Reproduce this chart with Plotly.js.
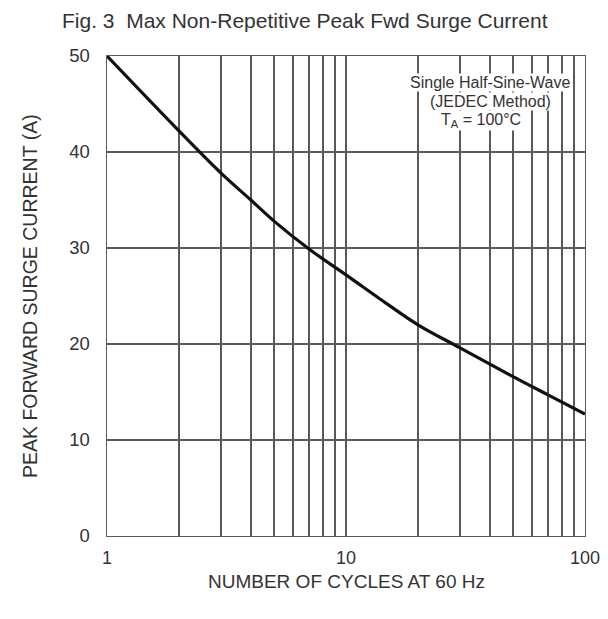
<!DOCTYPE html>
<html>
<head>
<meta charset="utf-8">
<script src="https://cdn.plot.ly/plotly-3.0.1.min.js"></script>
<style>html,body{margin:0;padding:0;background:#fff;}#chart{width:608px;height:619px;}</style>
</head>
<body>
<div id="chart"></div>
<script>
const cycles = [1, 2, 3, 4, 5, 7, 10, 15, 20, 30, 50, 70, 100];
const surgeCurrent = [50, 42.2, 37.8, 35.0, 32.8, 29.9, 27.2, 24.1, 22.0, 19.6, 16.6, 14.7, 12.7];
const xMajorTicks = [1, 10, 100];
const xTickText = ["1", "10", "100"];
const xMinorTicks = [2, 3, 4, 5, 6, 7, 8, 9, 20, 30, 40, 50, 60, 70, 80, 90];
const yTickVals = [0, 10, 20, 30, 40, 50];

const font = "Liberation Sans, Arial, sans-serif";
const textColor = "#333";
const gridColor = "#5a5a5a";

const trace = {
  x: cycles, y: surgeCurrent, type: "scatter", mode: "lines",
  line: {color: "#111", width: 3.2, shape: "spline", smoothing: 1.1},
  hoverinfo: "skip"
};

const layout = {
  width: 608, height: 619,
  margin: {l: 107, r: 23, t: 56, b: 83},
  paper_bgcolor: "#fff", plot_bgcolor: "#fff",
  showlegend: false,
  font: {family: font, color: textColor, size: 18},
  title: {
    text: "Fig. 3  Max Non-Repetitive Peak Fwd Surge Current",
    font: {family: font, size: 21, color: textColor},
    xref: "container", yref: "container",
    x: 62/608, xanchor: "left", y: 1 - 21/619, yanchor: "middle"
  },
  xaxis: {
    type: "log", range: [0, 2],
    tickmode: "array", tickvals: xMajorTicks, ticktext: xTickText,
    showgrid: true, gridcolor: gridColor, gridwidth: 1.4,
    minor: {tickmode: "array", tickvals: xMinorTicks, showgrid: true, gridcolor: gridColor, gridwidth: 1.4, ticks: ""},
    showline: true, linecolor: gridColor, linewidth: 1.4, mirror: true,
    ticks: "", zeroline: false, ticklabelstandoff: 5,
    tickfont: {family: font, size: 18, color: textColor}
  },
  yaxis: {
    range: [0, 50],
    tickmode: "array", tickvals: yTickVals,
    showgrid: true, gridcolor: gridColor, gridwidth: 1.4,
    showline: true, linecolor: gridColor, linewidth: 1.4, mirror: true,
    ticks: "", zeroline: false, ticklabelstandoff: 12,
    tickfont: {family: font, size: 18.5, color: textColor}
  },
  annotations: [
    {text: "NUMBER OF CYCLES AT 60 Hz", xref: "paper", yref: "paper", x: 0.5, y: -(581-536)/480,
     xanchor: "center", yanchor: "middle", showarrow: false, font: {family: font, size: 19, color: textColor}},
    {text: "PEAK FORWARD SURGE CURRENT (A)", xref: "paper", yref: "paper", x: -(107-30)/478, y: 0.5,
     xanchor: "center", yanchor: "middle", textangle: -90, showarrow: false, font: {family: font, size: 19.5, color: textColor}},
    {text: "Single Half-Sine-Wave", xref: "paper", yref: "paper", x: (490-107)/478, y: (536-82)/480,
     xanchor: "center", yanchor: "middle",
     showarrow: false, bgcolor: "#fff", font: {family: font, size: 16, color: textColor}, borderpad: 0},
    {text: "(JEDEC Method)", xref: "paper", yref: "paper", x: (490-107)/478, y: (536-101)/480,
     xanchor: "center", yanchor: "middle",
     showarrow: false, bgcolor: "#fff", font: {family: font, size: 16, color: textColor}, borderpad: 0},
    {text: "T<sub>A</sub> = 100°C", xref: "paper", yref: "paper", x: (481-107)/478, y: (536-121)/480,
     xanchor: "center", yanchor: "middle",
     showarrow: false, bgcolor: "#fff", font: {family: font, size: 16, color: textColor}, borderpad: 0}
  ]
};

Plotly.newPlot("chart", [trace], layout, {staticPlot: true, displayModeBar: false});
</script>
</body>
</html>
